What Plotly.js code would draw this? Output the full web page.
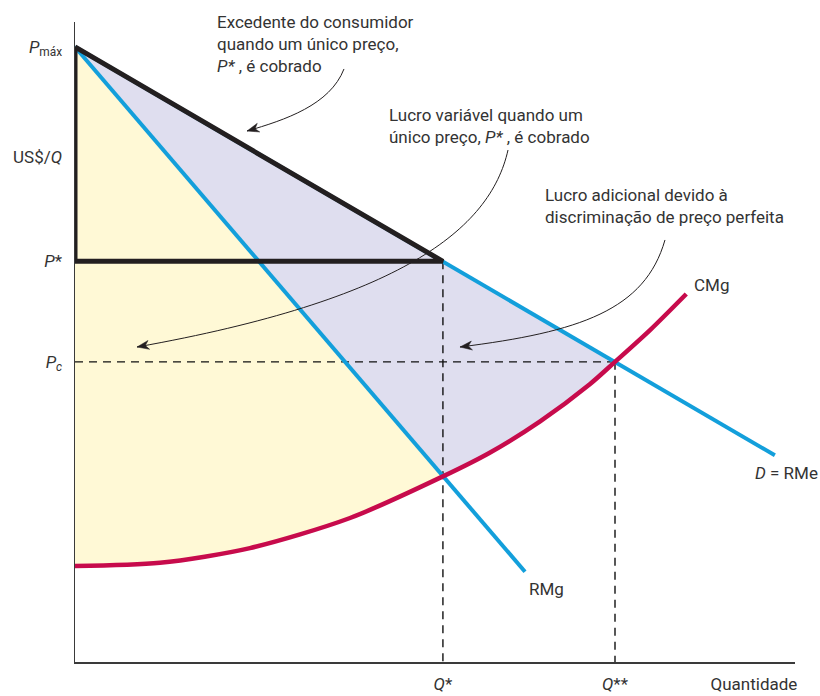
<!DOCTYPE html>
<html>
<head>
<meta charset="utf-8">
<script src="https://cdn.plot.ly/plotly-3.0.1.min.js"></script>
<style>
  html, body { margin: 0; padding: 0; background: #fff; }
  #chart { width: 820px; height: 696px; }
</style>
</head>
<body>
<div id="chart"></div>
<script>
// values (quantity / price units)
const pMax = 9.61;
const pStar = 6.26;
const pC = 4.69;
const qStar = 5.11;
const qStar2 = 7.5;

const demandQ = [0, 9.72];
const demandP = [9.61, 3.23];

const mrQ = [0, 6.25];
const mrP = [9.61, 1.41];

const mcQ = [0, 1.18, 2.43, 3.82, 5.11, 5.76, 6.46, 7.15, 7.5, 7.99, 8.49];
const mcP = [1.50, 1.55, 1.78, 2.25, 2.90, 3.27, 3.76, 4.34, 4.69, 5.19, 5.75];

const yTickVals = [pMax, 7.89, pStar, pC];
const yTickText = ['<i>P</i><sub>máx</sub>', 'US$/<i>Q</i>', '<i>P</i>*', '<i>P<sub>c</sub></i>'];
const xTickVals = [qStar, qStar2, 9.43];
const xTickText = ['<i>Q</i>*', '<i>Q</i>**', 'Quantidade'];

const FONT = 'Roboto, "Liberation Sans", sans-serif';
const TXT = '#333333';
const INK = '#231F20';

// plot box in pixels, used only to place the little arrowheads
const L = 75, T = 22, W = 720, H = 640, XMAX = 10, YMAX = 10;
const toX = (px) => (px - L) / W * XMAX;
const toY = (py) => (T + H - py) / H * YMAX;

// yellow: left of RMg, above CMg, up to Q*
const yellowX = [0], yellowY = [pMax];
mcQ.forEach((q, i) => {
    if (q <= qStar) { yellowX.push(q); yellowY.push(mcP[i]); }
});
yellowX.push(0); yellowY.push(pMax);

// lavender: between RMg and D, above CMg, up to Q**
const lavX = [0, qStar2], lavY = [pMax, pC];
for (let i = mcQ.length - 1; i >= 0; i--) {
    if (mcQ[i] >= qStar && mcQ[i] <= qStar2) { lavX.push(mcQ[i]); lavY.push(mcP[i]); }
}
lavX.push(0); lavY.push(pMax);

const dashed = {color: '#111111', width: 1.4, dash: '8px,6px'};

const traces = [
    {x: yellowX, y: yellowY, mode: 'lines', fill: 'toself', fillcolor: '#FFF9D6',
     line: {width: 0}, hoverinfo: 'skip'},
    {x: lavX, y: lavY, mode: 'lines', fill: 'toself', fillcolor: '#DFDEEF',
     line: {width: 0}, hoverinfo: 'skip'},
    {x: [0, qStar2], y: [pC, pC], mode: 'lines', line: dashed, hoverinfo: 'skip'},
    {x: [qStar, qStar], y: [pStar, 0], mode: 'lines', line: dashed, hoverinfo: 'skip'},
    {x: [qStar2, qStar2], y: [pC, 0], mode: 'lines', line: dashed, hoverinfo: 'skip'},
    {x: mrQ, y: mrP, mode: 'lines', line: {color: '#139FDB', width: 4}, hoverinfo: 'skip'},
    {x: demandQ, y: demandP, mode: 'lines', line: {color: '#139FDB', width: 4}, hoverinfo: 'skip'},
    {x: mcQ, y: mcP, mode: 'lines', line: {color: '#C70B4C', width: 4.5, shape: 'spline', smoothing: 0.8}, hoverinfo: 'skip'},
    {x: [0, qStar, 0, 0], y: [pMax, pStar, pStar, pMax], mode: 'lines',
     line: {color: INK, width: 5}, hoverinfo: 'skip'}
];

function note(x, y, text, yref) {
    return {x: x, y: y, xref: 'x', yref: yref || 'y', text: text, showarrow: false,
            xanchor: 'left', yanchor: 'top', align: 'left',
            font: {family: FONT, size: 17, color: TXT}};
}
function label(x, y, text) {
    return {x: x, y: y, xref: 'x', yref: 'y', text: text, showarrow: false,
            xanchor: 'left', yanchor: 'middle',
            font: {family: FONT, size: 17, color: TXT}};
}
function curve(path) {
    return {type: 'path', xref: 'x', yref: 'y', path: path,
            line: {color: INK, width: 1}, layer: 'above'};
}
// barbed arrowhead, tip (tx,ty) and direction (dx,dy) in pixels
function head(tx, ty, dx, dy) {
    const n = Math.hypot(dx, dy), ux = dx / n, uy = dy / n;
    const len = 12, w = 4.5;
    const pts = [
        [tx, ty],
        [tx - len * ux - w * uy, ty - len * uy + w * ux],
        [tx - 0.7 * len * ux, ty - 0.7 * len * uy],
        [tx - len * ux + w * uy, ty - len * uy - w * ux]
    ];
    const path = pts.map((p, i) => (i ? 'L' : 'M') + toX(p[0]).toFixed(4) + ',' + toY(p[1]).toFixed(4)).join(' ') + ' Z';
    return {type: 'path', xref: 'x', yref: 'y', path: path,
            fillcolor: INK, line: {color: INK, width: 0.5}, layer: 'above'};
}

const layout = {
    width: 820,
    height: 696,
    margin: {l: L, r: 820 - L - W, t: T, b: 696 - T - H},
    paper_bgcolor: '#ffffff',
    plot_bgcolor: '#ffffff',
    showlegend: false,
    xaxis: {
        range: [0, XMAX],
        showgrid: false,
        zeroline: false,
        showline: true,
        linecolor: '#3a3a3a',
        linewidth: 1.5,
        ticks: '',
        tickvals: xTickVals,
        ticktext: xTickText,
        ticklabelstandoff: 6,
        tickfont: {family: FONT, size: 17, color: TXT},
        fixedrange: true
    },
    yaxis: {
        range: [0, YMAX],
        showgrid: false,
        zeroline: false,
        showline: true,
        linecolor: '#3a3a3a',
        linewidth: 1.5,
        ticks: '',
        tickvals: yTickVals,
        ticktext: yTickText,
        ticklabelstandoff: 8,
        tickfont: {family: FONT, size: 17, color: TXT},
        fixedrange: true
    },
    shapes: [
        curve('M3.736,9.266 C3.542,8.703 2.917,8.469 2.389,8.297'),
        curve('M6.014,8.0 C5.764,6.75 4.514,5.656 0.861,4.922'),
        curve('M8.194,6.594 C7.917,5.5 7.014,5.156 5.347,4.922'),
        head(247, 131, -38, 11),
        head(137, 347, -263, 47),
        head(460, 347, -120, 15)
    ],
    annotations: [
        note(1.944, 1.019, 'Excedente do consumidor<br>quando um único preço,<br><i>P*</i> , é cobrado', 'paper'),
        note(4.333, 8.73, 'Lucro variável quando um<br>único preço, <i>P*</i> , é cobrado'),
        note(6.5, 7.48, 'Lucro adicional devido à<br>discriminação de preço perfeita'),
        label(8.57, 5.89, 'CMg'),
        label(6.28, 1.14, 'RMg'),
        label(9.42, 2.95, '<i>D</i> = RMe')
    ]
};

Plotly.newPlot('chart', traces, layout, {displayModeBar: false, staticPlot: true});
</script>
</body>
</html>
